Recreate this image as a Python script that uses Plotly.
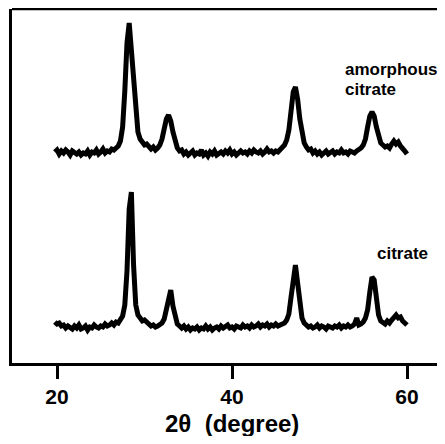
import plotly.graph_objects as go

# 2-theta grid (degrees)
two_theta = [
    19.75, 20.0, 20.25, 20.5, 20.75, 21.0, 21.25, 21.5, 21.75, 22.0,
    22.25, 22.5, 22.75, 23.0, 23.25, 23.5, 23.75, 24.0, 24.25, 24.5,
    24.75, 25.0, 25.25, 25.5, 25.75, 26.0, 26.25, 26.5, 26.75, 27.0,
    27.25, 27.5, 27.75, 28.0, 28.25, 28.5, 28.75, 29.0, 29.25, 29.5,
    29.75, 30.0, 30.25, 30.5, 30.75, 31.0, 31.25, 31.5, 31.75, 32.0,
    32.25, 32.5, 32.75, 33.0, 33.25, 33.5, 33.75, 34.0, 34.25, 34.5,
    34.75, 35.0, 35.25, 35.5, 35.75, 36.0, 36.25, 36.5, 36.75, 37.0,
    37.25, 37.5, 37.75, 38.0, 38.25, 38.5, 38.75, 39.0, 39.25, 39.5,
    39.75, 40.0, 40.25, 40.5, 40.75, 41.0, 41.25, 41.5, 41.75, 42.0,
    42.25, 42.5, 42.75, 43.0, 43.25, 43.5, 43.75, 44.0, 44.25, 44.5,
    44.75, 45.0, 45.25, 45.5, 45.75, 46.0, 46.25, 46.5, 46.75, 47.0,
    47.25, 47.5, 47.75, 48.0, 48.25, 48.5, 48.75, 49.0, 49.25, 49.5,
    49.75, 50.0, 50.25, 50.5, 50.75, 51.0, 51.25, 51.5, 51.75, 52.0,
    52.25, 52.5, 52.75, 53.0, 53.25, 53.5, 53.75, 54.0, 54.25, 54.5,
    54.75, 55.0, 55.25, 55.5, 55.75, 56.0, 56.25, 56.5, 56.75, 57.0,
    57.25, 57.5, 57.75, 58.0, 58.25, 58.5, 58.75, 59.0, 59.25, 59.5,
    59.75, 60.0,
]

# intensity above baseline (a.u.), amorphous citrate sample
amorphous_citrate = [
    1, 3, -1, 2, 0, 3, 1, -2, 2, 0,
    -1, 1, -2, 0, -1, 2, -2, 1, 0, 3,
    -1, 1, 4, 0, 2, 1, 4, 3, 5, 7,
    12, 26, 62, 110, 130, 102, 64, 35, 21, 14,
    11, 8, 9, 6, 4, 6, 3, 5, 8, 14,
    24, 34, 38, 32, 21, 11, 5, 2, 3, -1,
    1, -2, 0, 2, -2, 0, -1, 3, -2, 0,
    -3, 1, -1, 2, -2, 0, 1, -1, 2, 0,
    3, -1, 1, -2, 0, 2, 0, 1, -1, 2,
    0, 3, 1, 0, 2, -1, 1, 4, 1, 2,
    0, 2, 1, 3, 5, 8, 13, 23, 42, 61,
    66, 54, 34, 18, 10, 6, 3, 4, 0, 2,
    -1, 1, -2, 0, 2, -1, 0, 2, -1, 1,
    0, 3, 0, 1, -1, 2, 1, 0, 2, 3,
    5, 8, 14, 26, 37, 41, 37, 26, 16, 10,
    8, 6, 7, 5, 9, 12, 9, 11, 7, 5,
    2, -1,
]

# intensity above baseline (a.u.), citrate sample
citrate = [
    5, 3, 4, 1, 2, -1, 1, 0, -2, 1,
    -1, 2, -2, -1, 1, -3, 0, -1, 2, 0,
    -1, 1, 0, 3, 1, 2, 4, 2, 5, 4,
    7, 11, 22, 56, 118, 135, 62, 22, 12, 8,
    6, 7, 5, 3, 1, 2, 0, 1, 3, 4,
    8, 18, 32, 37, 21, 9, 3, 1, -1, 1,
    -2, 0, -3, -1, -2, 0, -3, -1, -2, 1,
    -2, 0, -3, -1, 0, -2, 1, -1, 0, 2,
    -1, 0, -2, 1, 0, -1, 2, 0, 1, -1,
    2, 0, 1, 3, 0, 2, 1, 3, 0, 2,
    1, 3, 1, 2, 3, 4, 7, 13, 30, 52,
    62, 44, 20, 9, 4, 2, 0, 1, -1, 0,
    2, -1, 1, 0, -2, 1, 0, -1, 1, 0,
    2, -1, 1, 0, 2, 0, 1, 3, 9, 2,
    3, 5, 9, 17, 35, 50, 47, 27, 12, 6,
    5, 3, 6, 4, 7, 9, 12, 9, 10, 6,
    4, 2,
]

x_ticks = [20, 40, 60]
upper_offset = 210
lower_offset = 36

FONT = "Liberation Sans"

fig = go.Figure()
fig.add_trace(go.Scatter(
    x=two_theta, y=[v + upper_offset for v in amorphous_citrate],
    mode="lines", line=dict(color="black", width=5), showlegend=False,
))
fig.add_trace(go.Scatter(
    x=two_theta, y=[v + lower_offset for v in citrate],
    mode="lines", line=dict(color="black", width=5), showlegend=False,
))

fig.update_layout(
    width=437, height=428,
    margin=dict(l=4, r=0, t=1, b=73),
    paper_bgcolor="white", plot_bgcolor="white",
    xaxis=dict(
        range=[14.857, 64.343], tickvals=x_ticks, ticktext=[str(t) for t in x_ticks],
        showline=True, linecolor="black", linewidth=3,
        ticks="outside", ticklen=13, tickwidth=3, tickcolor="black",
        showgrid=False, zeroline=False,
        tickfont=dict(family=FONT, size=21, color="black", weight="bold"),
    ),
    yaxis=dict(
        range=[0, 354], showticklabels=False, ticks="",
        showline=True, linecolor="black", linewidth=3,
        showgrid=False, zeroline=False,
    ),
    shapes=[dict(type="line", xref="paper", yref="paper", x0=0, x1=1, y0=1, y1=1,
                 line=dict(color="black", width=2.5))],
    annotations=[
        dict(x=40, y=-0.17, xref="x", yref="paper", text="2θ  (degree)", showarrow=False,
             xanchor="center", yanchor="middle",
             font=dict(family=FONT, size=24, color="black", weight="bold")),
        dict(x=52.69, y=294, xref="x", yref="y", text="amorphous", showarrow=False,
             xanchor="left", yanchor="middle",
             font=dict(family=FONT, size=17, color="black", weight="bold")),
        dict(x=52.69, y=274, xref="x", yref="y", text="citrate", showarrow=False,
             xanchor="left", yanchor="middle",
             font=dict(family=FONT, size=17, color="black", weight="bold")),
        dict(x=56.34, y=110, xref="x", yref="y", text="citrate", showarrow=False,
             xanchor="left", yanchor="middle",
             font=dict(family=FONT, size=17, color="black", weight="bold")),
    ],
)

fig.write_html("out.html")
